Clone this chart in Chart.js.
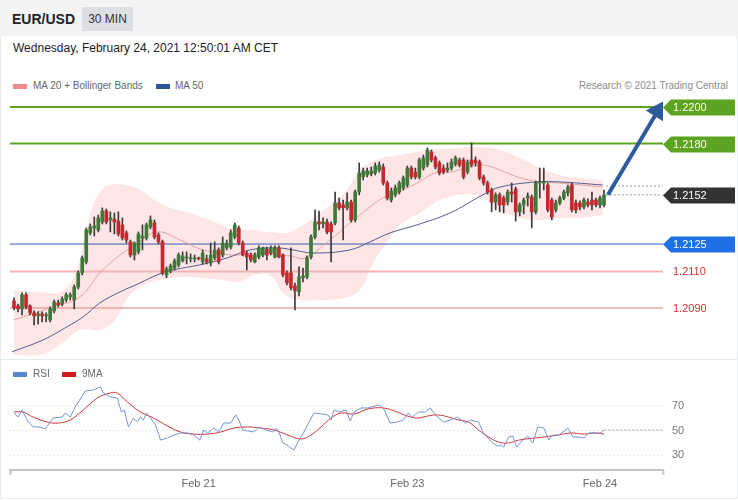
<!DOCTYPE html>
<html>
<head>
<meta charset="utf-8">
<script src="https://cdn.jsdelivr.net/npm/chart.js@4.4.0/dist/chart.umd.min.js"></script>
<style>
  body { margin:0; width:738px; height:500px; background:#fff; position:relative; overflow:hidden;
         font-family:"Liberation Sans", Arial, sans-serif; }
  .band { position:absolute; left:0; top:0; width:738px; height:36px; background:#f4f4f4; }
  .frame { position:absolute; left:0; top:36px; width:736px; height:462px; border:1px solid #e8ecee; border-top:none; }
  .sep { position:absolute; left:0; top:359px; width:738px; height:1px; background:#e6e9eb; }
  .pair { position:absolute; left:12px; top:11px; font-size:14px; font-weight:bold; color:#222; }
  .tf { position:absolute; left:82px; top:7px; width:51px; height:24px; line-height:24px; background:#dedfe2;
        font-size:12px; color:#333; text-align:center; }
  .date { position:absolute; left:13px; top:41px; font-size:12px; color:#222; }
  .lg { position:absolute; font-size:10px; line-height:12px; color:#666; white-space:nowrap; }
  .chip { position:absolute; width:14px; height:5px; }
  .credit { position:absolute; right:10px; top:80px; font-size:10px; line-height:12px; color:#8c8c8c; }
  canvas { position:absolute; left:0; }
</style>
</head>
<body>
<div class="band"></div>
<div class="frame"></div>
<div class="pair">EUR/USD</div>
<div class="tf">30 MIN</div>
<div class="date">Wednesday, February 24, 2021 12:50:01 AM CET</div>

<div class="chip" style="left:13px;top:84px;background:#f08a8a"></div>
<div class="lg" style="left:33px;top:80px">MA 20 + Bollinger Bands</div>
<div class="chip" style="left:156px;top:84px;background:#2b5596"></div>
<div class="lg" style="left:175px;top:80px">MA 50</div>
<div class="credit">Research © 2021 Trading Central</div>

<canvas id="price" width="738" height="264" style="top:96px"></canvas>
<div class="sep"></div>

<div class="chip" style="left:13px;top:372px;background:#5b86d6"></div>
<div class="lg" style="left:33px;top:368px">RSI</div>
<div class="chip" style="left:62px;top:372px;background:#d0181c"></div>
<div class="lg" style="left:82px;top:368px">9MA</div>
<canvas id="rsi" width="738" height="140" style="top:360px"></canvas>

<script>
// candles, 30 min, Feb 19 00:00 -> Feb 24 00:30
const opens = [1.20939,1.20912,1.20895,1.20972,1.20912,1.20873,1.20857,1.20868,1.20857,1.20835,
  1.20884,1.20928,1.20922,1.20944,1.20961,1.20944,1.21015,1.21092,1.21152,1.21311,
  1.21338,1.21327,1.21371,1.21431,1.21382,1.21387,1.21376,1.21355,1.21311,1.21262,
  1.21190,1.21207,1.21283,1.21283,1.21344,1.21365,1.21300,1.21262,1.21081,1.21103,
  1.21119,1.21136,1.21158,1.21174,1.21169,1.21169,1.21174,1.21152,1.21169,1.21147,
  1.21174,1.21218,1.21190,1.21229,1.21234,1.21289,1.21338,1.21256,1.21201,1.21190,
  1.21152,1.21179,1.21190,1.21223,1.21201,1.21179,1.21229,1.21190,1.21092,1.21092,
  1.21021,1.20988,1.21065,1.21070,1.21179,1.21289,1.21371,1.21360,1.21371,1.21360,
  1.21365,1.21475,1.21464,1.21448,1.21480,1.21382,1.21535,1.21617,1.21628,1.21634,
  1.21639,1.21655,1.21672,1.21584,1.21491,1.21519,1.21535,1.21557,1.21573,1.21666,
  1.21644,1.21617,1.21666,1.21683,1.21754,1.21721,1.21694,1.21666,1.21655,1.21666,
  1.21688,1.21710,1.21710,1.21644,1.21710,1.21710,1.21699,1.21617,1.21584,1.21546,
  1.21480,1.21519,1.21502,1.21480,1.21535,1.21551,1.21426,1.21464,1.21502,1.21508,
  1.21426,1.21584,1.21584,1.21573,1.21491,1.21437,1.21475,1.21502,1.21530,1.21573,
  1.21475,1.21475,1.21453,1.21480,1.21491,1.21491,1.21464,1.21464];
const highs = [1.20955,1.20922,1.20983,1.20983,1.20917,1.20884,1.20879,1.20879,1.20873,1.20906,
  1.20944,1.20944,1.20961,1.20983,1.20983,1.21026,1.21103,1.21185,1.21338,1.21360,
  1.21398,1.21409,1.21448,1.21442,1.21426,1.21420,1.21426,1.21393,1.21322,1.21272,
  1.21262,1.21316,1.21355,1.21365,1.21404,1.21382,1.21311,1.21272,1.21125,1.21141,
  1.21169,1.21201,1.21207,1.21207,1.21196,1.21190,1.21179,1.21218,1.21190,1.21256,
  1.21262,1.21229,1.21289,1.21272,1.21327,1.21365,1.21349,1.21267,1.21212,1.21201,
  1.21201,1.21240,1.21234,1.21234,1.21240,1.21240,1.21240,1.21196,1.21103,1.21229,
  1.21037,1.21125,1.21119,1.21185,1.21300,1.21437,1.21431,1.21393,1.21387,1.21371,
  1.21535,1.21502,1.21491,1.21530,1.21491,1.21546,1.21694,1.21666,1.21666,1.21672,
  1.21694,1.21699,1.21688,1.21595,1.21557,1.21573,1.21595,1.21623,1.21677,1.21677,
  1.21666,1.21721,1.21737,1.21776,1.21765,1.21732,1.21705,1.21683,1.21694,1.21716,
  1.21732,1.21721,1.21721,1.21710,1.21803,1.21727,1.21710,1.21628,1.21595,1.21557,
  1.21530,1.21530,1.21513,1.21546,1.21584,1.21562,1.21475,1.21502,1.21530,1.21519,
  1.21595,1.21666,1.21666,1.21584,1.21502,1.21491,1.21513,1.21546,1.21573,1.21584,
  1.21491,1.21486,1.21502,1.21497,1.21535,1.21502,1.21513,1.21546];
const lows = [1.20890,1.20879,1.20862,1.20895,1.20862,1.20808,1.20813,1.20824,1.20824,1.20824,
  1.20873,1.20906,1.20912,1.20933,1.20944,1.20895,1.21004,1.21081,1.21141,1.21300,
  1.21294,1.21316,1.21360,1.21360,1.21316,1.21305,1.21294,1.21272,1.21256,1.21179,
  1.21163,1.21196,1.21218,1.21272,1.21333,1.21278,1.21251,1.21081,1.21065,1.21092,
  1.21108,1.21125,1.21152,1.21141,1.21152,1.21152,1.21163,1.21141,1.21141,1.21130,
  1.21163,1.21141,1.21179,1.21218,1.21223,1.21278,1.21245,1.21185,1.21108,1.21152,
  1.21147,1.21169,1.21179,1.21163,1.21190,1.21174,1.21174,1.21070,1.21026,1.20999,
  1.20890,1.20966,1.21043,1.21059,1.21169,1.21278,1.21327,1.21338,1.21305,1.21152,
  1.21355,1.21437,1.21272,1.21437,1.21371,1.21371,1.21519,1.21601,1.21617,1.21623,
  1.21628,1.21644,1.21573,1.21491,1.21480,1.21508,1.21524,1.21546,1.21562,1.21606,
  1.21606,1.21606,1.21655,1.21672,1.21699,1.21661,1.21628,1.21634,1.21644,1.21655,
  1.21677,1.21672,1.21606,1.21634,1.21672,1.21677,1.21601,1.21573,1.21524,1.21426,
  1.21437,1.21426,1.21420,1.21464,1.21480,1.21376,1.21404,1.21415,1.21458,1.21338,
  1.21415,1.21502,1.21546,1.21426,1.21382,1.21426,1.21464,1.21491,1.21513,1.21426,
  1.21420,1.21437,1.21442,1.21453,1.21437,1.21453,1.21448,1.21453];
const closes = [1.20901,1.20895,1.20972,1.20906,1.20873,1.20857,1.20868,1.20857,1.20862,1.20895,
  1.20933,1.20917,1.20950,1.20972,1.20972,1.21015,1.21092,1.21174,1.21327,1.21344,
  1.21349,1.21393,1.21431,1.21371,1.21393,1.21371,1.21305,1.21283,1.21272,1.21190,
  1.21256,1.21305,1.21294,1.21355,1.21382,1.21289,1.21262,1.21092,1.21114,1.21130,
  1.21158,1.21190,1.21185,1.21179,1.21174,1.21174,1.21169,1.21201,1.21152,1.21190,
  1.21218,1.21152,1.21256,1.21251,1.21311,1.21355,1.21256,1.21190,1.21179,1.21163,
  1.21190,1.21229,1.21229,1.21190,1.21229,1.21229,1.21179,1.21081,1.21037,1.21010,
  1.20994,1.21070,1.21076,1.21174,1.21289,1.21371,1.21360,1.21371,1.21316,1.21316,
  1.21475,1.21448,1.21448,1.21480,1.21382,1.21535,1.21639,1.21650,1.21650,1.21650,
  1.21677,1.21683,1.21584,1.21502,1.21541,1.21557,1.21584,1.21612,1.21666,1.21617,
  1.21617,1.21710,1.21721,1.21765,1.21710,1.21672,1.21639,1.21644,1.21666,1.21699,
  1.21721,1.21683,1.21617,1.21699,1.21683,1.21694,1.21612,1.21584,1.21535,1.21480,
  1.21519,1.21464,1.21464,1.21535,1.21524,1.21426,1.21464,1.21491,1.21513,1.21426,
  1.21584,1.21590,1.21590,1.21437,1.21398,1.21475,1.21502,1.21535,1.21562,1.21437,
  1.21437,1.21453,1.21491,1.21464,1.21464,1.21464,1.21502,1.21519];

// indicators: [candle index, value]
const ma20 = [[0,1.20835],[9,1.20901],[16.4,1.20961],[21.4,1.21092],[26.4,1.21190],[29.6,1.21234],
  [35.6,1.21316],[41.4,1.21272],[47.1,1.21218],[54.6,1.21190],[61.3,1.21201],[68.8,1.21185],
  [72.5,1.21174],[78.7,1.21272],[83.7,1.21365],[88.7,1.21453],[91.9,1.21502],[95.4,1.21530],
  [100.4,1.21584],[105.4,1.21644],[108.6,1.21644],[113.6,1.21672],[116.8,1.21683],[121.1,1.21655],
  [126.1,1.21612],[131,1.21590],[136,1.21584],[146.7,1.21562]];
const ma50 = [[-0.5,1.20660],[7.2,1.20725],[13.2,1.20797],[17.2,1.20851],[21.4,1.20928],[26.4,1.20988],
  [31.4,1.21037],[35.6,1.21081],[39.6,1.21108],[46.3,1.21136],[53.1,1.21174],[58.8,1.21218],
  [65.5,1.21229],[69.5,1.21218],[74.5,1.21201],[83.7,1.21218],[88.7,1.21262],[93.7,1.21311],
  [100.4,1.21355],[108.6,1.21420],[116.8,1.21519],[121.1,1.21562],[130.3,1.21590],[136,1.21590],
  [146.7,1.21573]];
const bbUpper = [[0,1.20999],[6.5,1.20988],[11.5,1.20988],[15.2,1.21081],[18.9,1.21409],[21.4,1.21535],
  [23.9,1.21573],[27.7,1.21573],[31.4,1.21546],[35.1,1.21491],[38.9,1.21448],[43.8,1.21420],
  [48.8,1.21382],[53.8,1.21338],[58.8,1.21327],[63.8,1.21316],[68.8,1.21316],[73.7,1.21382],
  [78.7,1.21464],[82.5,1.21535],[86.2,1.21655],[89.9,1.21710],[96.2,1.21737],[103.6,1.21765],
  [111.1,1.21776],[116.1,1.21781],[121.1,1.21765],[126.1,1.21721],[131,1.21666],[136,1.21628],
  [141,1.21612],[146.7,1.21601]];
const bbLower = [[0,1.20643],[6.5,1.20643],[11.5,1.20698],[16.4,1.20780],[21.4,1.20780],[25.2,1.20835],
  [28.9,1.20972],[32.6,1.21026],[36.4,1.21054],[41.4,1.21070],[46.3,1.21065],[51.3,1.21054],
  [56.3,1.21043],[60,1.21081],[63.8,1.21081],[67.5,1.20972],[71.3,1.20944],[76.2,1.20944],
  [82.5,1.20955],[86.2,1.20999],[89.9,1.21163],[93.7,1.21283],[96.2,1.21355],[101.1,1.21420],
  [106.1,1.21491],[111.1,1.21519],[116.1,1.21508],[121.1,1.21437],[126.1,1.21393],[131,1.21382],
  [136,1.21393],[141,1.21393],[146.7,1.21409]];

const rsi = [[0,64.3],[1,61.0],[2,66.7],[3.25,58.6],[4.75,52.9],[6.5,52.9],[7.75,51.2],[9,56.9],[9.75,60.2],
  [12,61.0],[12.75,64.3],[14,61.0],[15.25,69.2],[17.75,82.2],[19.75,83.1],[21.5,85.5],[22.25,80.6],[24,77.3],
  [25.75,76.5],[26.75,65.1],[27.5,66.7],[28.5,52.9],[29.75,60.2],[30.75,56.9],[31.5,61.0],[32.25,58.6],
  [33,64.3],[34,60.2],[35.25,54.5],[36.5,42.2],[38.25,43.9],[39.75,46.3],[41.5,48.0],[43.25,48.0],
  [44.75,46.3],[46.25,42.2],[47.25,50.4],[48.25,48.0],[49.75,52.0],[51,48.8],[52.25,56.1],[54,56.1],
  [55.25,62.7],[56,58.6],[57,50.4],[58.25,49.6],[59.75,48.8],[61,52.9],[62.75,50.4],[64.5,48.8],
  [65.25,52.0],[66,48.8],[67,39.8],[68,38.2],[69,35.7],[69.75,34.1],[71,42.2],[72.25,48.8],[73.5,56.9],
  [74.75,64.3],[76.5,63.5],[78.25,62.7],[79,58.6],[79.75,66.7],[81,65.1],[82.75,66.7],[83.75,57.8],
  [84.75,65.1],[86.5,68.4],[88.25,68.4],[90.75,70.8],[92,68.4],[93.75,56.1],[95.5,56.9],[97,58.6],
  [98.25,64.3],[99.25,61.0],[100.75,65.1],[102.5,65.1],[103.75,68.4],[105,62.7],[107,56.9],[108.75,58.6],
  [110.5,61.0],[112.5,56.1],[113.75,58.6],[115.75,56.9],[117,48.0],[119.25,39.8],[120.5,37.3],
  [121.25,38.2],[122,36.5],[123.25,44.7],[124.25,45.5],[125.25,36.5],[126.75,42.2],[128,45.5],
  [129.25,39.8],[130.5,52.9],[132,52.0],[133.25,42.2],[134.25,46.3],[135.75,46.3],[138,52.0],
  [139.25,44.7],[140.5,44.7],[142,43.9],[143.25,48.0],[144.5,48.0],[146.25,48.0],[147,50.4]];
const rsiMa9 = [[0,65.1],[2.25,65.1],[4.75,61.0],[8.25,56.9],[11,56.1],[14,58.6],[17.25,66.7],[20.75,76.5],
  [24,80.6],[25.75,80.6],[28.25,73.3],[31.5,65.1],[34.75,60.2],[38.25,53.7],[41.5,48.8],[44.75,47.1],
  [48.25,47.1],[51.5,48.8],[54.75,52.0],[58.25,52.9],[61.5,52.0],[64.75,50.4],[68.25,46.3],[71.5,43.1],
  [74,46.3],[76.5,52.9],[79,60.2],[81.5,64.3],[84.75,63.5],[88.25,67.6],[92,68.4],[95.5,65.1],[98,61.8],
  [100.5,60.2],[103,61.8],[105.5,62.7],[108.25,61.0],[110.75,58.6],[113.25,56.9],[115.75,50.4],
  [118.25,44.7],[120.75,40.6],[123.25,39.8],[125.75,42.2],[132,44.7],[135.5,46.3],[138.75,48.0],
  [142,47.1],[144.5,48.0],[147,47.1]];

const levelValues = [1.2200, 1.2180, 1.2152, 1.2125, 1.2110, 1.2090];
const ma20Last = 1.21568;
const arrowPath = [[148, 1.21520], [160.4, 1.21978]];
const rsiTicks = [30, 50, 70];
const dateTickIndex = [46, 98, 146];
const dateTickLabels = ['Feb 21', 'Feb 23', 'Feb 24'];

// ---------------------------------------------------------------
Chart.defaults.font.family = '"Liberation Sans", Arial, sans-serif';
const xMin = -1, xMax = 161.7;
const pts = arr => arr.map(([x, y]) => ({ x, y }));
const flat = v => [{ x: xMin, y: v }, { x: xMax, y: v }];
const upCol = '#3d7a38', downCol = '#c4282c';
const candleCol = c => closes[c.dataIndex] >= opens[c.dataIndex] ? upCol : downCol;

// styles for the level lines / tags, same order as levelValues
const levelStyles = [
  { line: '#5ca41f', width: 2, box: '#5ca41f' },
  { line: '#5ca41f', width: 2, box: '#5ca41f' },
  { line: null, box: '#333333' },
  { line: '#2d5fb3', width: 1, box: '#1f6fe6' },
  { line: '#f3b3b3', width: 2, text: '#d33232' },
  { line: '#e28383', width: 1, text: '#d33232' }
];

const levelTags = {
  id: 'levelTags',
  afterDraw(chart) {
    const { ctx, chartArea, scales: { y } } = chart;
    const x0 = chartArea.right;
    ctx.save();
    ctx.font = '11px "Liberation Sans", Arial, sans-serif';
    ctx.textBaseline = 'middle';
    levelValues.forEach((v, k) => {
      const st = levelStyles[k];
      const py = Math.round(y.getPixelForValue(v)) + 0.5;
      if (st.box) {
        ctx.fillStyle = st.box;
        ctx.beginPath();
        ctx.moveTo(x0, py);
        ctx.lineTo(x0 + 8, py - 8);
        ctx.lineTo(x0 + 72, py - 8);
        ctx.lineTo(x0 + 72, py + 8);
        ctx.lineTo(x0 + 8, py + 8);
        ctx.closePath();
        ctx.fill();
        ctx.fillStyle = '#fff';
      } else {
        ctx.fillStyle = st.text;
      }
      ctx.fillText(v.toFixed(4), x0 + 10, py);
    });
    ctx.restore();
  }
};

const levelSets = levelValues.map((v, k) => levelStyles[k].line ? {
  type: 'line', data: flat(v), borderColor: levelStyles[k].line, borderWidth: levelStyles[k].width,
  pointRadius: 0, order: 6
} : null).filter(Boolean);

new Chart(document.getElementById('price'), {
  type: 'bar',
  data: {
    datasets: [
      { type: 'line', data: pts(arrowPath), borderColor: '#2e5b9c', borderWidth: 4,
        pointRadius: [0, 8], pointStyle: 'triangle', pointRotation: [0, 32],
        pointBackgroundColor: '#2e5b9c', pointBorderColor: '#2e5b9c', order: 0 },
      { data: opens.map((o, i) => ({ x: i, y: [o, closes[i]] })), backgroundColor: candleCol,
        barThickness: 3, minBarLength: 1, grouped: false, order: 1 },
      { data: lows.map((l, i) => ({ x: i, y: [l, highs[i]] })), backgroundColor: '#3a3a3a',
        barThickness: 1, grouped: false, order: 2 },
      { type: 'line', data: pts(ma50), borderColor: '#4f5d8e', borderWidth: 1, pointRadius: 0,
        tension: 0.4, order: 3 },
      { type: 'line', data: pts(ma20), borderColor: '#e3a2a2', borderWidth: 1, pointRadius: 0,
        tension: 0.4, order: 4 },
      { type: 'line', data: pts(bbUpper), borderWidth: 0, pointRadius: 0, tension: 0.4,
        fill: '+1', backgroundColor: 'rgba(252,190,190,0.38)', order: 8 },
      { type: 'line', data: pts(bbLower), borderWidth: 0, pointRadius: 0, tension: 0.4, order: 9 },
      { type: 'line', data: [{ x: 147.5, y: ma20Last }, { x: xMax, y: ma20Last }], borderColor: '#9a9a9a',
        borderWidth: 1, borderDash: [2, 2], pointRadius: 0, order: 5 },
      { type: 'line', data: [{ x: 147.5, y: closes[closes.length - 1] }, { x: xMax, y: closes[closes.length - 1] }],
        borderColor: '#9a9a9a', borderWidth: 1, borderDash: [2, 2], pointRadius: 0, order: 5 },
      ...levelSets
    ]
  },
  options: {
    responsive: false,
    animation: false,
    layout: { autoPadding: false, padding: { left: 10, right: 75, top: 2, bottom: 4 } },
    plugins: { legend: { display: false }, tooltip: { enabled: false } },
    scales: {
      x: { type: 'linear', min: xMin, max: xMax, offset: false, display: false },
      y: { min: 1.206373, max: 1.220493, display: false }
    }
  },
  plugins: [levelTags]
});

new Chart(document.getElementById('rsi'), {
  type: 'line',
  data: {
    datasets: [
      { data: pts(rsi), borderColor: '#7494d8', borderWidth: 1, pointRadius: 0, tension: 0 },
      { data: pts(rsiMa9), borderColor: '#d63535', borderWidth: 1, pointRadius: 0, tension: 0.4 },
      { data: [{ x: 147, y: 50.4 }, { x: xMax, y: 50.4 }], borderColor: '#b5b5b5', borderWidth: 1,
        borderDash: [2, 2], pointRadius: 0 }
    ]
  },
  options: {
    responsive: false,
    animation: false,
    layout: { autoPadding: false, padding: { left: 10, top: 20 } },
    plugins: { legend: { display: false }, tooltip: { enabled: false } },
    scales: {
      x: {
        type: 'linear', min: xMin, max: xMax,
        afterBuildTicks: ax => { ax.ticks = [xMin, ...dateTickIndex, xMax].map(value => ({ value })); },
        afterFit: ax => { ax.height = 30; },
        ticks: {
          autoSkip: false, maxRotation: 0, padding: 2, color: '#666', font: { size: 11 },
          callback: v => { const k = dateTickIndex.indexOf(v); return k < 0 ? '' : dateTickLabels[k]; }
        },
        grid: {
          drawOnChartArea: false, drawTicks: true, tickLength: 5, tickWidth: 2,
          tickColor: c => (c.tick && (c.tick.value === xMin || c.tick.value === xMax)) ? '#c5c5c5' : 'rgba(0,0,0,0)'
        },
        border: { display: true, color: '#c5c5c5', width: 2 }
      },
      y: {
        position: 'right', min: 17.8, max: 91.2,
        afterBuildTicks: ax => { ax.ticks = rsiTicks.map(value => ({ value })); },
        afterFit: ax => { ax.width = 75; },
        ticks: { padding: 9, color: '#777', font: { size: 11 } },
        grid: { color: '#d0d0d0', drawTicks: false },
        border: { display: false, dash: [1, 3] }
      }
    }
  }
});
</script>
</body>
</html>
